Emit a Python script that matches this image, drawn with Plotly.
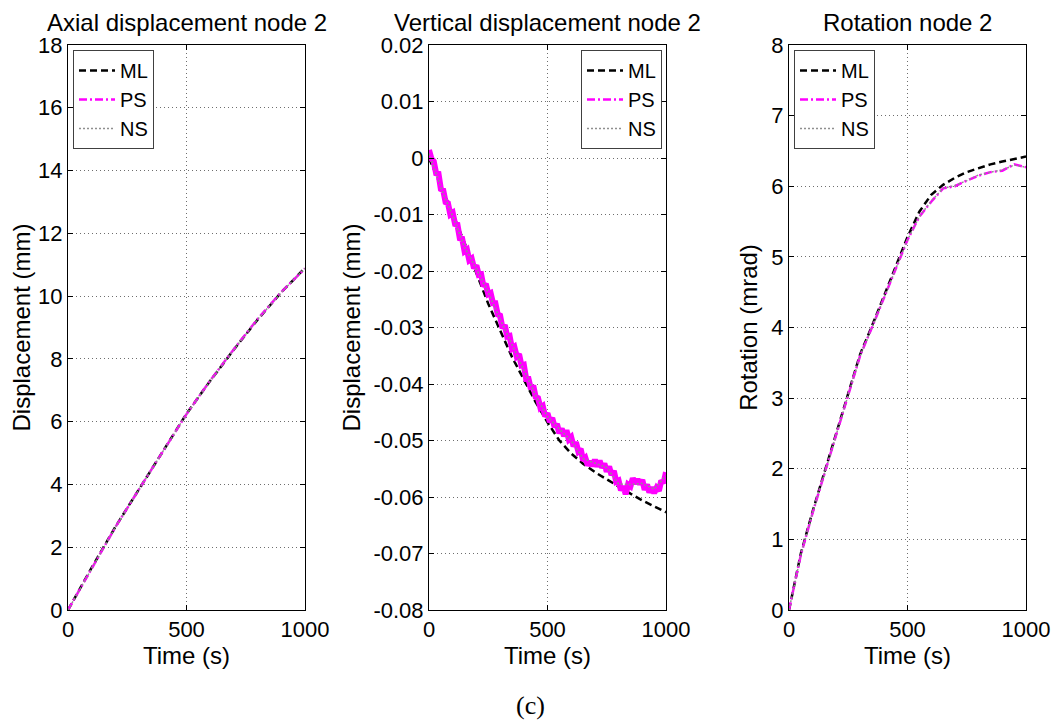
import plotly.graph_objects as go

# the page places the figure 8 px in from the top-left corner (default body margin)
OFF = 8
W, H = 1059 - OFF, 723 - OFF

# ---------------- data ----------------
# Panel 1: axial displacement (mm)
t1 = [0, 100, 200, 300, 400, 500, 600, 700, 800, 900, 1000]
axial_ml = [0, 1.35, 2.65, 3.86, 5.06, 6.25, 7.30, 8.30, 9.25, 10.12, 10.90]
axial_ps = [0, 1.33, 2.64, 3.85, 5.05, 6.24, 7.31, 8.31, 9.27, 10.13, 10.88]
axial_ns = [0, 1.34, 2.64, 3.85, 5.05, 6.24, 7.30, 8.30, 9.26, 10.12, 10.89]

# Panel 2: vertical displacement (mm)
t2_ml = [0, 50, 100, 150, 200, 250, 300, 350, 400, 450, 500, 550, 600, 650,
         700, 750, 800, 850, 900, 950, 1000]
vert_ml = [0, -0.0048, -0.0098, -0.0150, -0.0205, -0.0258, -0.0305, -0.0352,
           -0.0392, -0.0432, -0.0468, -0.0500, -0.0523, -0.0541, -0.0556,
           -0.0569, -0.0582, -0.0594, -0.0606, -0.0616, -0.0627]
t2_ps = list(range(0, 1001, 10))
vert_ps = [0.0014, -0.0001, -0.0006, -0.0027, -0.0028, -0.0055, -0.0057, -0.0078,
           -0.0080, -0.0100, -0.0097, -0.0117, -0.0118, -0.0142, -0.0143, -0.0165,
           -0.0162, -0.0181, -0.0178, -0.0195, -0.0190, -0.0207, -0.0206, -0.0227,
           -0.0223, -0.0241, -0.0239, -0.0257, -0.0257, -0.0277, -0.0279, -0.0301,
           -0.0296, -0.0316, -0.0315, -0.0337, -0.0334, -0.0351, -0.0347, -0.0367,
           -0.0366, -0.0391, -0.0391, -0.0409, -0.0403, -0.0423, -0.0425, -0.0442,
           -0.0439, -0.0457, -0.0452, -0.0467, -0.0460, -0.0476, -0.0471, -0.0487,
           -0.0479, -0.0492, -0.0482, -0.0498, -0.0494, -0.0510, -0.0503, -0.0519,
           -0.0515, -0.0535, -0.0531, -0.0544, -0.0537, -0.0545, -0.0534, -0.0546,
           -0.0536, -0.0548, -0.0541, -0.0555, -0.0546, -0.0561, -0.0554, -0.0573,
           -0.0571, -0.0588, -0.0581, -0.0595, -0.0578, -0.0581, -0.0567, -0.0576,
           -0.0569, -0.0577, -0.0570, -0.0587, -0.0578, -0.0592, -0.0583, -0.0593,
           -0.0584, -0.0589, -0.0571, -0.0575, -0.0556]
t2_ns = [0, 50, 100, 150, 200, 250, 300, 350, 400, 450, 500, 550, 600, 650,
         700, 750, 800, 850, 900, 950, 1000]
vert_ns = [0.0008, -0.0052, -0.0103, -0.0158, -0.0196, -0.0238, -0.0285, -0.0330,
           -0.0372, -0.0420, -0.0458, -0.0480, -0.0500, -0.0532, -0.0540, -0.0548,
           -0.0577, -0.0578, -0.0576, -0.0586, -0.0562]

# Panel 3: rotation (mrad)
t3 = [0, 50, 100, 150, 200, 250, 300, 350, 400, 450, 500, 550, 600, 650,
      700, 750, 800, 850, 900, 950, 1000]
rot_ml = [0, 0.80, 1.40, 1.95, 2.50, 3.07, 3.62, 4.02, 4.44, 4.85, 5.28, 5.64,
          5.88, 6.02, 6.12, 6.20, 6.26, 6.31, 6.35, 6.39, 6.42]
rot_ps = [0, 0.78, 1.38, 1.93, 2.48, 3.05, 3.60, 4.00, 4.42, 4.82, 5.24, 5.57,
          5.78, 5.97, 6.00, 6.08, 6.15, 6.20, 6.22, 6.31, 6.27]
rot_ns = [0, 0.78, 1.38, 1.93, 2.48, 3.05, 3.60, 4.00, 4.42, 4.82, 5.24, 5.57,
          5.79, 5.97, 6.01, 6.08, 6.16, 6.20, 6.23, 6.30, 6.27]

x_ticks = [0, 500, 1000]
y1_ticks = [0, 2, 4, 6, 8, 10, 12, 14, 16, 18]
y2_ticks = [-0.08, -0.07, -0.06, -0.05, -0.04, -0.03, -0.02, -0.01, 0, 0.01, 0.02]
y2_labels = ["-0.08", "-0.07", "-0.06", "-0.05", "-0.04", "-0.03", "-0.02", "-0.01",
             "0", "0.01", "0.02"]
y3_ticks = [0, 1, 2, 3, 4, 5, 6, 7, 8]

titles = ["Axial displacement node 2", "Vertical displacement node 2", "Rotation node 2"]
ylabels = ["Displacement (mm)", "Displacement (mm)", "Rotation (mrad)"]

# ---------------- styling ----------------
FONT = "Arial, Liberation Sans, sans-serif"
ML_STYLE = dict(color="black", width=2.5, dash="7px,4px")
PS_STYLE = dict(color="#ff00ff", width=2.5, dash="8px,3px,2px,3px")
PS_NOISY_STYLE = dict(color="#ff00ff", width=6)
NS_STYLE = dict(color="#8f8f8f", width=1.5, dash="2px,2px")

# plot-area pixel boxes (page pixels)
xboxes = [(68, 305), (429, 666), (789, 1026)]
ytop, ybot = 45, 610

def px_x(p):
    return (p - OFF) / W

def px_y(p):
    return 1 - (p - OFF) / H

fig = go.Figure()

panels = [
    (t1, axial_ml, t1, axial_ps, t1, axial_ns),
    (t2_ml, vert_ml, t2_ps, vert_ps, t2_ns, vert_ns),
    (t3, rot_ml, t3, rot_ps, t3, rot_ns),
]
legend_names = ["legend", "legend2", "legend3"]

for i, (tm, ym, tp, yp, tn, yn) in enumerate(panels):
    xa = "x" if i == 0 else f"x{i+1}"
    ya = "y" if i == 0 else f"y{i+1}"
    lg = legend_names[i]
    fig.add_trace(go.Scatter(x=tm, y=ym, mode="lines", name="ML", line=ML_STYLE,
                             xaxis=xa, yaxis=ya, legend=lg))
    if i == 1:
        # noisy measurement: drawn as a dense band, legend shows the dash-dot style
        fig.add_trace(go.Scatter(x=tp, y=yp, mode="lines", name="PS", line=PS_NOISY_STYLE,
                                 xaxis=xa, yaxis=ya, legend=lg, showlegend=False,
                                 legendgroup="ps2"))
        fig.add_trace(go.Scatter(x=[None], y=[None], mode="lines", name="PS", line=PS_STYLE,
                                 xaxis=xa, yaxis=ya, legend=lg, legendgroup="ps2"))
    else:
        fig.add_trace(go.Scatter(x=tp, y=yp, mode="lines", name="PS", line=PS_STYLE,
                                 xaxis=xa, yaxis=ya, legend=lg))
    fig.add_trace(go.Scatter(x=tn, y=yn, mode="lines", name="NS", line=NS_STYLE,
                             xaxis=xa, yaxis=ya, legend=lg))

axis_common = dict(
    showline=True, linecolor="black", linewidth=1, mirror="allticks",
    ticks="inside", ticklen=5, tickwidth=1, tickcolor="black",
    showgrid=True, gridcolor="#6e6e6e", gridwidth=1, griddash="1px,3px",
    zeroline=False, automargin=False,
    tickfont=dict(family=FONT, size=22, color="black"),
)

yranges = [(0, 18), (-0.08, 0.02), (0, 8)]
ytickvals = [y1_ticks, y2_ticks, y3_ticks]
yticktext = [[str(v) for v in y1_ticks], y2_labels, [str(v) for v in y3_ticks]]

layout = dict(
    width=W, height=H, margin=dict(l=0, r=0, t=0, b=0, autoexpand=False),
    paper_bgcolor="white", plot_bgcolor="white",
    font=dict(family=FONT, color="black"),
    showlegend=True,
)

for i in range(3):
    xk = "xaxis" if i == 0 else f"xaxis{i+1}"
    yk = "yaxis" if i == 0 else f"yaxis{i+1}"
    x0, x1 = xboxes[i]
    layout[xk] = dict(
        axis_common, domain=[px_x(x0), px_x(x1)], range=[0, 1000],
        tickvals=x_ticks, ticktext=[str(v) for v in x_ticks],
        anchor="y" if i == 0 else f"y{i+1}",
        title=dict(text="Time (s)", font=dict(family=FONT, size=24), standoff=4),
    )
    layout[yk] = dict(
        axis_common, domain=[px_y(ybot), px_y(ytop)], range=list(yranges[i]),
        tickvals=ytickvals[i], ticktext=yticktext[i],
        anchor="x" if i == 0 else f"x{i+1}",
        title=dict(text=ylabels[i], font=dict(family=FONT, size=24), standoff=6),
    )

leg_common = dict(
    bgcolor="white", bordercolor="#404040", borderwidth=1,
    font=dict(family=FONT, size=20, color="black"),
    yanchor="top", tracegroupgap=0, itemclick=False, itemwidth=36,
)
layout["legend"] = dict(leg_common, x=px_x(73), xanchor="left", y=px_y(50))
layout["legend2"] = dict(leg_common, x=px_x(662), xanchor="right", y=px_y(50))
layout["legend3"] = dict(leg_common, x=px_x(794), xanchor="left", y=px_y(50))

annotations = []
for i in range(3):
    x0, x1 = xboxes[i]
    annotations.append(dict(
        text=titles[i], x=px_x((x0 + x1) / 2), y=1.0, xref="paper", yref="paper",
        xanchor="center", yanchor="top", showarrow=False, borderpad=0,
        font=dict(family=FONT, size=24, color="black"),
    ))
annotations.append(dict(
    text="(c)", x=px_x(530), y=px_y(705), xref="paper", yref="paper",
    xanchor="center", yanchor="middle", showarrow=False,
    font=dict(family="Liberation Serif, Times New Roman, serif", size=26, color="black"),
))
layout["annotations"] = annotations

fig.update_layout(**layout)
fig.write_html("out.html")
